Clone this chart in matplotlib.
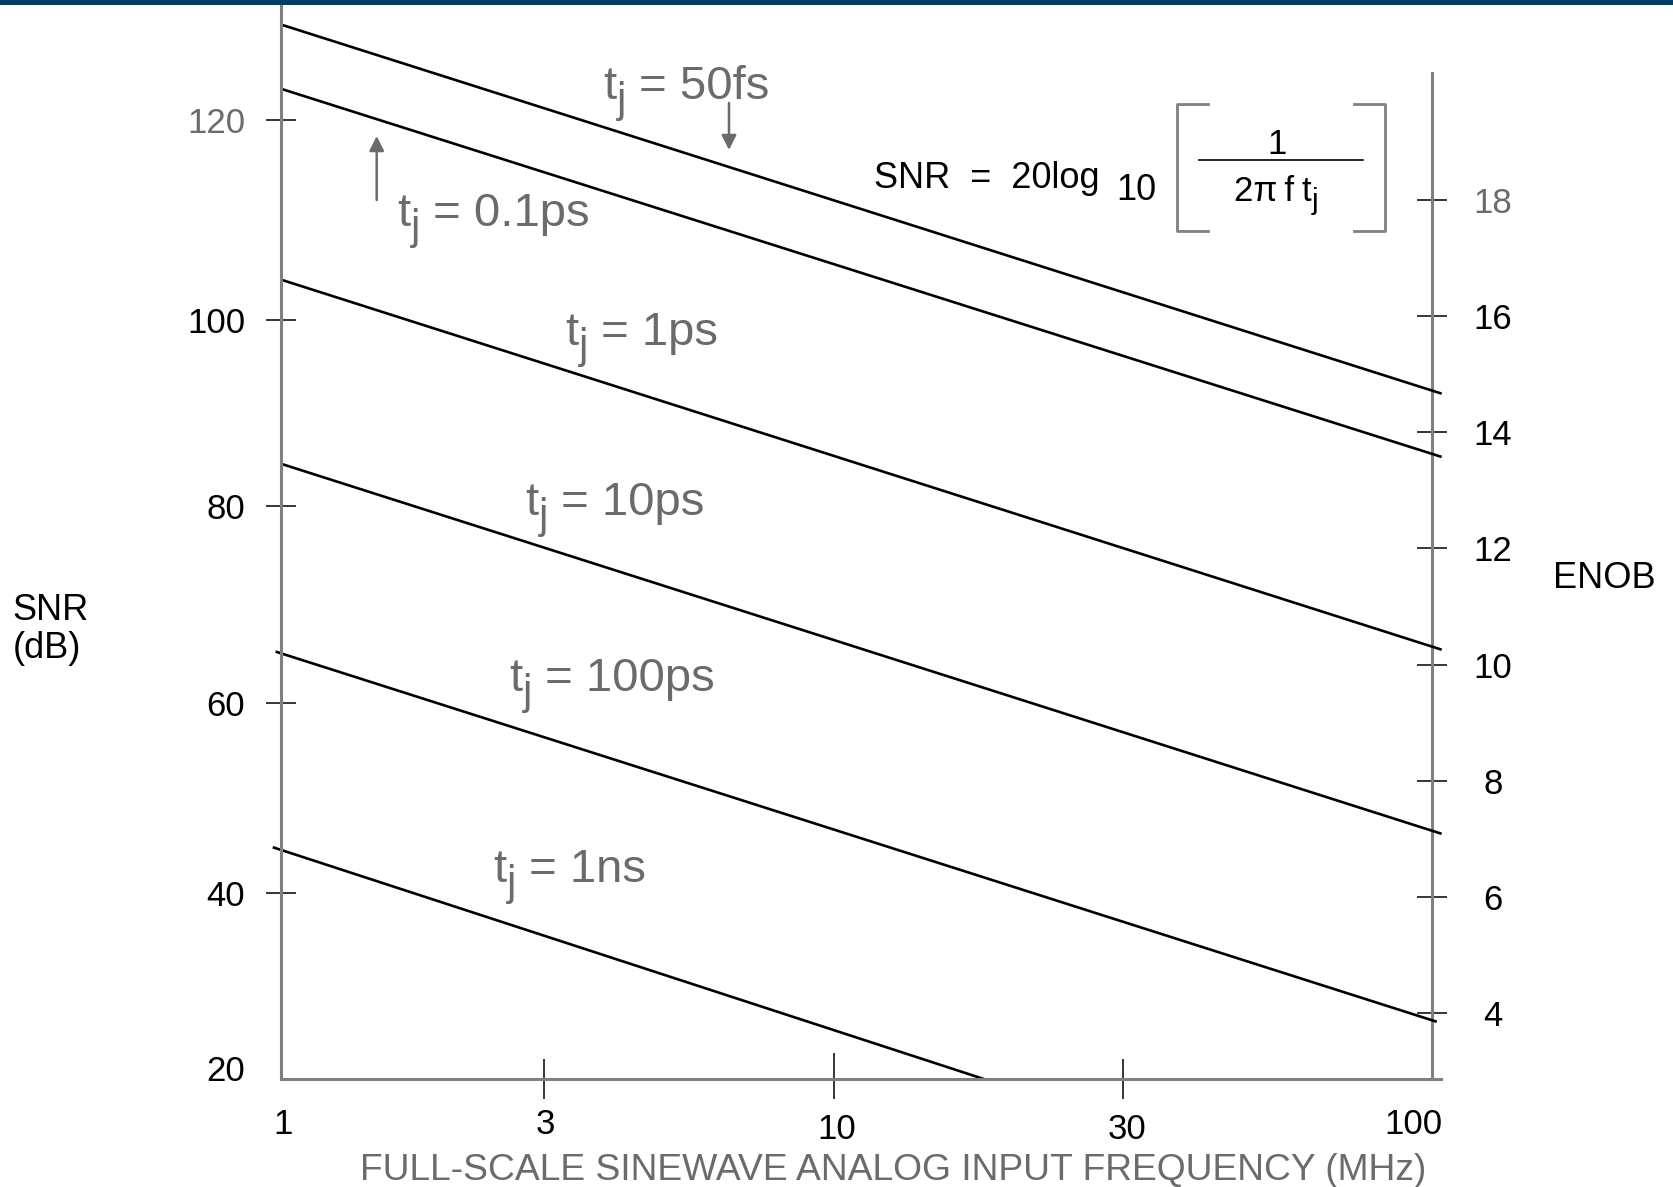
import matplotlib
matplotlib.use('Agg')
import matplotlib.pyplot as plt
from matplotlib.lines import Line2D
from matplotlib.patches import Rectangle
from matplotlib.ticker import NullLocator
import matplotlib.transforms as mtransforms

plt.rcParams['font.family'] = ['Liberation Sans', 'DejaVu Sans']

# ---------------- data ----------------
jitter_labels = ['50fs', '0.1ps', '1ps', '10ps', '100ps', '1ns']
freq_start = [1.0, 1.0, 1.0, 1.0, 0.98, 0.969]      # MHz
freq_end = [103.8, 103.8, 103.8, 103.8, 101.8, 16.7]  # MHz
snr_start = [130.0, 123.3, 103.4, 84.2, 64.6, 44.2]   # dB
snr_end = [91.5, 84.9, 64.8, 45.6, 26.0, 20.0]        # dB

x_ticks = [1, 3, 10, 30, 100]
x_ticklabels = ['1', '3', '10', '30', '100']
snr_ticks = [20, 40, 60, 80, 100, 120]
snr_ticklabels = ['20', '40', '60', '80', '100', '120']
enob_ticks = [4, 6, 8, 10, 12, 14, 16, 18]
enob_ticklabels = ['4', '6', '8', '10', '12', '14', '16', '18']
# ENOB axis as drawn: SNR = ENOB_SLOPE * ENOB + ENOB_OFFSET
ENOB_SLOPE = 6.056
ENOB_OFFSET = 2.69

GRAY = '#6b6b6b'
SPINE = '#808080'
BAND = '#003D64'

W, H = 1673, 1187
fig = plt.figure(figsize=(W / 100, H / 100), dpi=100)


def fx(x):
    return x / W


def fy(y):
    return 1 - y / H


def px_shift(dx, dy):
    # shift in pixels (dx right, dy down)
    return mtransforms.ScaledTranslation(dx / 100, -dy / 100, fig.dpi_scale_trans)


ax = fig.add_axes([fx(280.6), fy(1079.3), (1432.3 - 280.6) / W, (1079.3 - 6) / H])
ax.set_xscale('log')
ax.set_xlim(1, 100)
ax.set_ylim(20, 131.92)
ax.patch.set_visible(False)

for fs, fe, s0, s1 in zip(freq_start, freq_end, snr_start, snr_end):
    ax.plot([fs, fe], [s0, s1], color='black', lw=1.9, clip_on=False,
            solid_capstyle='butt')

# spines
ax.spines['top'].set_visible(False)
ax.spines['right'].set_visible(False)
for s in ('left', 'bottom'):
    ax.spines[s].set_color(SPINE)
    ax.spines[s].set_linewidth(2.2)
ax.spines['bottom'].set_bounds(1, 103.7)

# x ticks
ax.set_xticks(x_ticks, x_ticklabels)
ax.xaxis.set_minor_locator(NullLocator())
ax.tick_params(axis='x', direction='inout', length=28.8, width=1.1, color='black',
               labelsize=25, pad=6.5, labelcolor='black')
xt = ax.xaxis.get_major_ticks()
xt[0].tick1line.set_visible(False)
xt[-1].tick1line.set_visible(False)
# hand-drawn placement of the original tick marks / labels
x_label_shift = [(2, 0), (-10, 0), (-20, 5), (-4, 5), (-19, 0)]
x_line_shift = [(0, 0), (-11, 0), (-22.5, -3.8), (-8, 0), (0, 0)]
for tk, (ldx, ldy), (tdx, tdy) in zip(xt, x_label_shift, x_line_shift):
    tk.label1.set_transform(tk.label1.get_transform() + px_shift(ldx, ldy))
    tk.tick1line.set_transform(tk.tick1line.get_transform() + px_shift(tdx, tdy))
xt[2].tick1line.set_markersize(33.8)

# left y ticks
ax.set_yticks(snr_ticks, snr_ticklabels)
ax.yaxis.set_minor_locator(NullLocator())
ax.tick_params(axis='y', direction='inout', length=21, width=1.1, color='black',
               labelsize=25, pad=15.1, labelcolor='black')
yt = ax.yaxis.get_major_ticks()
yt[0].tick1line.set_visible(False)
y_shift = [-11, 5.6, 7, 2, 8, 0]
for tk, dy in zip(yt, y_shift):
    tk.label1.set_transform(tk.label1.get_transform() + px_shift(0, dy))
    tk.tick1line.set_transform(tk.tick1line.get_transform() + px_shift(0, dy))
yt[-1].label1.set_color(GRAY)

# right ENOB axis
ax2 = ax.secondary_yaxis('right', functions=(lambda s: (s - ENOB_OFFSET) / ENOB_SLOPE,
                                              lambda e: e * ENOB_SLOPE + ENOB_OFFSET))
ax2.set_yticks(enob_ticks, enob_ticklabels)
ax2.yaxis.set_minor_locator(NullLocator())
ax2.tick_params(axis='y', direction='inout', length=21.6, width=1.1, color='black',
                labelsize=25, pad=33, labelcolor='black')
ax2.spines['right'].set_color(SPINE)
ax2.spines['right'].set_linewidth(2.2)
ax2.spines['right'].set_bounds((20 - ENOB_OFFSET) / ENOB_SLOPE,
                               (124.96 - ENOB_OFFSET) / ENOB_SLOPE)
for lab in ax2.get_yticklabels():
    lab.set_ha('center')
ax2.get_yticklabels()[-1].set_color(GRAY)

# axis labels
ax.set_xlabel('FULL-SCALE SINEWAVE ANALOG INPUT FREQUENCY (MHz)', fontsize=26.8,
              color=GRAY, va='baseline', ha='center')
ax.xaxis.set_label_coords(fx(893.6), fy(1180), transform=fig.transFigure)
ax.set_ylabel('SNR\n(dB)', fontsize=26, rotation=0, ha='left', va='baseline',
              multialignment='left', linespacing=1.12)
ax.yaxis.set_label_coords(fx(12.8), fy(655), transform=fig.transFigure)
ax2.set_ylabel('ENOB', fontsize=26, rotation=0, ha='left', va='baseline')
ax2.yaxis.set_label_coords(fx(1552.5), fy(588), transform=fig.transFigure)

renderer = fig.canvas.get_renderer()
inv = fig.transFigure.inverted()


def tj_text(x, y, rest, size, color, sub_scale=0.88, drop=0.27, gap=0.5):
    """Draw 't' + lowered 'j' + rest starting at pixel (x, baseline y)."""
    t1 = fig.text(fx(x), fy(y), 't', fontsize=size, color=color, ha='left', va='baseline')
    b1 = t1.get_window_extent(renderer)
    jx = b1.x1 + gap
    drop_px = drop * size * 100 / 72
    jpos = inv.transform((jx, b1.y0))
    t2 = fig.text(jpos[0], fy(y) - drop_px / H, 'j', fontsize=size * sub_scale, color=color,
                  ha='left', va='baseline')
    b2 = t2.get_window_extent(renderer)
    if rest:
        rpos = inv.transform((b2.x1, b1.y0))
        fig.text(rpos[0], fy(y), rest, fontsize=size, color=color, ha='left',
                 va='baseline')


# curve labels
label_pos = [(603, 99), (397, 226), (565.5, 345), (525, 515), (509, 691), (493, 882)]
for name, (lx, ly) in zip(jitter_labels, label_pos):
    tj_text(lx, ly, ' = ' + name, 34, GRAY)

# arrows
ax.annotate('', xy=(fx(729), fy(150)), xytext=(fx(729), fy(103)),
            xycoords='figure fraction', textcoords='figure fraction',
            arrowprops=dict(arrowstyle='-|>', color=GRAY, lw=1.8, mutation_scale=22,
                            shrinkA=0, shrinkB=0))
ax.annotate('', xy=(fx(376.7), fy(136)), xytext=(fx(376.7), fy(200)),
            xycoords='figure fraction', textcoords='figure fraction',
            arrowprops=dict(arrowstyle='-|>', color=GRAY, lw=1.8, mutation_scale=22,
                            shrinkA=0, shrinkB=0))

# formula
fig.text(fx(874), fy(188.5), 'SNR  =  20log', fontsize=26, ha='left', va='baseline')
fig.text(fx(1116), fy(199.5), '10', fontsize=26, ha='left', va='baseline')
fig.text(fx(1277), fy(154), '1', fontsize=25, ha='center', va='baseline')
base = fig.text(fx(1234), fy(200.7), '2\u03c0\u2009f\u2009', fontsize=25,
                ha='left', va='baseline')
bb = base.get_window_extent(renderer)
tj_text(bb.x1 * W / fig.bbox.width, 200.7, '', 25, 'black', sub_scale=0.85, drop=0.25, gap=0.5)
fig.add_artist(Line2D([fx(1199), fx(1362.5)], [fy(159.5), fy(159.5)],
                      transform=fig.transFigure, color='black', lw=1.2))
fig.add_artist(Line2D([fx(1208), fx(1177), fx(1177), fx(1208)],
                      [fy(103.5), fy(103.5), fy(231), fy(231)],
                      transform=fig.transFigure, color=SPINE, lw=2.0))
fig.add_artist(Line2D([fx(1353.6), fx(1384.6), fx(1384.6), fx(1353.6)],
                      [fy(103.5), fy(103.5), fy(231), fy(231)],
                      transform=fig.transFigure, color=SPINE, lw=2.0))

# top band
fig.add_artist(Rectangle((0, fy(5)), 1, 5 / H, transform=fig.transFigure,
                         color=BAND, lw=0))

fig.savefig('out.png', dpi=100)
